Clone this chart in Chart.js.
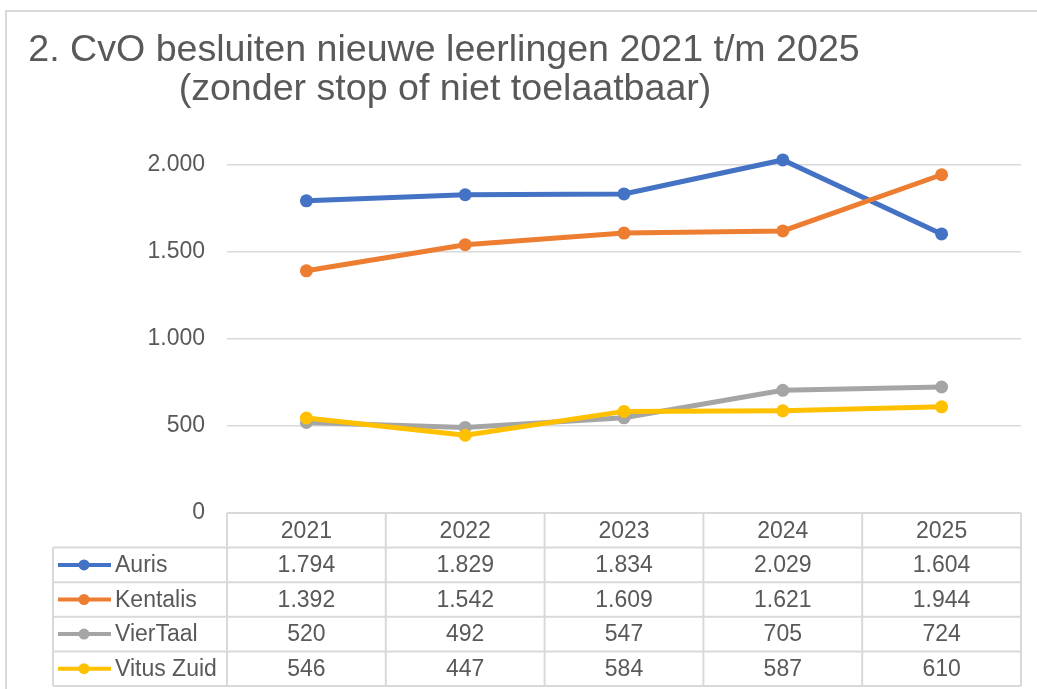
<!DOCTYPE html>
<html>
<head>
<meta charset="utf-8">
<script src="https://cdn.jsdelivr.net/npm/chart.js"></script>
<style>
  html, body { margin: 0; padding: 0; background: #ffffff; }
  #wrap { position: relative; width: 1037px; height: 689px; }
</style>
</head>
<body>
<div id="wrap"><canvas id="cvoChart" width="1037" height="689"></canvas></div>
<script>
const titleLines = ["2. CvO besluiten nieuwe leerlingen 2021 t/m 2025", "(zonder stop of niet toelaatbaar)"];
const years = ["2021", "2022", "2023", "2024", "2025"];
const seriesNames = ["Auris", "Kentalis", "VierTaal", "Vitus Zuid"];
const auris = [1794, 1829, 1834, 2029, 1604];
const kentalis = [1392, 1542, 1609, 1621, 1944];
const vierTaal = [520, 492, 547, 705, 724];
const vitusZuid = [546, 447, 584, 587, 610];
const yTicks = [0, 500, 1000, 1500, 2000];
const seriesColors = ["#4472C4", "#ED7D31", "#A5A5A5", "#FFC000"];

const textColor = "#595959";
const lineGray = "#d9d9d9";
const fontFam = "'Liberation Sans', Arial, sans-serif";

// dutch thousands separator
function fmt(v) {
  return String(v).replace(/\B(?=(\d{3})+(?!\d))/g, ".");
}

const allValues = [auris, kentalis, vierTaal, vitusZuid];

function mkDatasets() {
  let sets = [];
  seriesNames.forEach((name, i) => {
    sets.push({
      label: name,
      data: allValues[i],
      borderColor: seriesColors[i],
      backgroundColor: seriesColors[i],
      borderWidth: 5,
      pointRadius: 6.5,
      pointHoverRadius: 6.5,
      pointBorderWidth: 0,
      tension: 0,
      clip: false,
      order: seriesNames.length - i,
    });
  });
  return sets;
}

const framePlugin = {
  id: "frame",
  beforeDraw(chart) {
    let ctx = chart.ctx;
    ctx.save();
    ctx.strokeStyle = lineGray;
    ctx.lineWidth = 2;
    ctx.strokeRect(6, 11, 1040, 700);
    // title
    ctx.fillStyle = textColor;
    ctx.font = "37.6px " + fontFam;
    ctx.textAlign = "center";
    ctx.textBaseline = "alphabetic";
    ctx.fillText(titleLines[0], 444, 61);
    ctx.fillText(titleLines[1], 445, 100);
    ctx.restore();
  },
  afterDraw(chart) {
    let ctx = chart.ctx;
    let area = chart.chartArea;
    let xs = chart.scales.x;
    let colW = (area.right - area.left) / years.length;
    let rowH = 34.6;
    let top = area.bottom;
    let legLeft = 53;
    ctx.save();
    ctx.strokeStyle = lineGray;
    ctx.lineWidth = 2;
    // horizontal lines
    ctx.beginPath();
    ctx.moveTo(area.left, top);
    ctx.lineTo(area.right, top);
    for (let r = 1; r <= seriesNames.length + 1; r++) {
      let y = top + r * rowH;
      ctx.moveTo(legLeft, y);
      ctx.lineTo(area.right, y);
    }
    // vertical lines
    for (let c = 0; c <= years.length; c++) {
      let x = area.left + c * colW;
      ctx.moveTo(x, top);
      ctx.lineTo(x, top + (seriesNames.length + 1) * rowH);
    }
    ctx.moveTo(legLeft, top + rowH);
    ctx.lineTo(legLeft, top + (seriesNames.length + 1) * rowH);
    ctx.stroke();

    ctx.fillStyle = textColor;
    ctx.font = "23px " + fontFam;
    ctx.textBaseline = "middle";
    ctx.textAlign = "center";
    years.forEach((yr, c) => {
      ctx.fillText(yr, xs.getPixelForValue(c), top + rowH / 2 + 1);
    });
    seriesNames.forEach((name, r) => {
      let yMid = top + (r + 1.5) * rowH + 1;
      // legend key
      ctx.strokeStyle = seriesColors[r];
      ctx.lineWidth = 4;
      ctx.beginPath();
      ctx.moveTo(58, yMid - 1);
      ctx.lineTo(111, yMid - 1);
      ctx.stroke();
      ctx.fillStyle = seriesColors[r];
      ctx.beginPath();
      ctx.arc(84, yMid - 1, 5.5, 0, Math.PI * 2);
      ctx.fill();
      ctx.fillStyle = textColor;
      ctx.textAlign = "left";
      ctx.fillText(name, 115, yMid);
      ctx.textAlign = "center";
      allValues[r].forEach((v, c) => {
        ctx.fillText(fmt(v), xs.getPixelForValue(c), yMid);
      });
    });
    ctx.restore();
  },
};

const chartCfg = {
  type: "line",
  data: {
    labels: years,
    datasets: mkDatasets(),
  },
  options: {
    responsive: false,
    animation: false,
    events: [],
    layout: {
      padding: { top: 165, right: 16, bottom: 176, left: 0 },
    },
    plugins: {
      legend: { display: false },
      title: { display: false },
      tooltip: { enabled: false },
    },
    scales: {
      x: {
        display: false,
        offset: true,
      },
      y: {
        min: yTicks[0],
        max: yTicks[yTicks.length - 1],
        afterFit: (scale) => {
          scale.width = 227;
        },
        afterBuildTicks: (scale) => {
          scale.ticks = yTicks.map((v) => ({ value: v }));
        },
        border: { display: false },
        grid: {
          color: (c) => (c.tick.value === 0 ? "rgba(0,0,0,0)" : lineGray),
          lineWidth: 1.5,
          drawTicks: false,
        },
        ticks: {
          color: textColor,
          font: { family: fontFam, size: 23 },
          padding: 22,
          callback: (v) => fmt(v),
        },
      },
    },
  },
  plugins: [framePlugin],
};

new Chart(document.getElementById("cvoChart"), chartCfg);
</script>
</body>
</html>
